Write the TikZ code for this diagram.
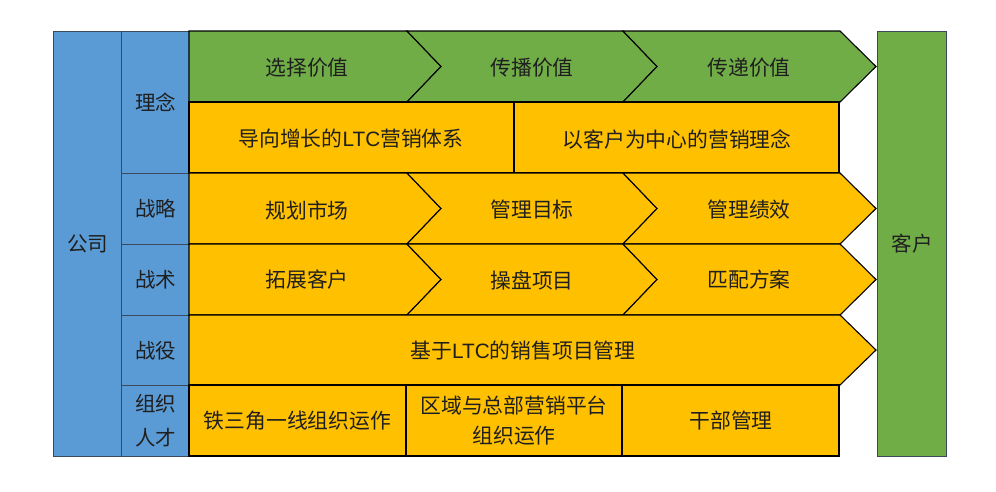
\documentclass[tikz,border=0pt]{standalone}
\usepackage{fontspec}
\newfontfamily\cjk{Noto Sans CJK SC}
\newfontfamily\lat{Liberation Sans}
\newcommand{\ltc}{{\lat LTC}}
\definecolor{cblue}{HTML}{5B9BD5}
\definecolor{cgreen}{HTML}{70AD47}
\definecolor{cyellow}{HTML}{FFC000}
\definecolor{cborder}{HTML}{3A4A5C}
\begin{document}
\begin{tikzpicture}[x=1pt,y=-1pt,
  lab/.style={font=\cjk\fontsize{20.8}{30}\selectfont, text=black!88, inner sep=0pt, align=center},
  sidebox/.style={draw=cborder, line width=1pt, anchor=north west, inner sep=0pt,
     font=\cjk\fontsize{20.5}{34}\selectfont, text=black!88, align=center},
  catbox/.style={sidebox, fill=cblue, minimum width=68pt},
  shp/.style={draw=black, line width=1.1pt, line join=miter},
  gshp/.style={shp, fill=cgreen},
  yshp/.style={shp, fill=cyellow}]
\useasboundingbox (0,0) rectangle (996,491);
\fill[white] (0,0) rectangle (996,491);
% side boxes
\node[sidebox, fill=cblue, minimum width=68pt, minimum height=425pt] (gongsi) at (53,31) {公司};
\node[sidebox, fill=cgreen, minimum width=69pt, minimum height=425pt] (kehu) at (877,31) {客户};
\node[catbox, minimum height=142pt] (linian) at (121,31) {理念};
\node[catbox, minimum height=71pt] (zhanlue) at (121,173) {战略};
\node[catbox, minimum height=71pt] (zhanshu) at (121,244) {战术};
\node[catbox, minimum height=70pt] (zhanyi) at (121,315) {战役};
\node[catbox, minimum height=71pt] (zuzhi) at (121,385) {组织\\人才};
% row 1 (green chevrons)
\draw[gshp] (189,31) -- (407,31) -- (441,66.5) -- (407,102) -- (189,102) -- cycle;
\draw[gshp] (407,31) -- (623,31) -- (657,66.5) -- (623,102) -- (407,102) -- (441,66.5) -- cycle;
\draw[gshp] (623,31) -- (840,31) -- (876,66.5) -- (840,102) -- (623,102) -- (657,66.5) -- cycle;
\node[lab] (a1) at (307,68) {选择价值};
\node[lab] (a2) at (532,68) {传播价值};
\node[lab] (a3) at (749,68) {传递价值};
% row 2
\draw[yshp] (189,102) rectangle (514,173);
\draw[yshp] (514,102) rectangle (839,173);
\node[lab] (b1) at (351,139) {导向增长的\ltc 营销体系};
\node[lab] (b2) at (677,139) {以客户为中心的营销理念};
% row 3
\draw[yshp] (189,173) -- (407,173) -- (441,208.5) -- (407,244) -- (189,244) -- cycle;
\draw[yshp] (407,173) -- (623,173) -- (657,208.5) -- (623,244) -- (407,244) -- (441,208.5) -- cycle;
\draw[yshp] (623,173) -- (840,173) -- (876,208.5) -- (840,244) -- (623,244) -- (657,208.5) -- cycle;
\node[lab] (c1) at (307,210) {规划市场};
\node[lab] (c2) at (532,210) {管理目标};
\node[lab] (c3) at (749,210) {管理绩效};
% row 4
\draw[yshp] (189,244) -- (407,244) -- (441,279.5) -- (407,315) -- (189,315) -- cycle;
\draw[yshp] (407,244) -- (623,244) -- (657,279.5) -- (623,315) -- (407,315) -- (441,279.5) -- cycle;
\draw[yshp] (623,244) -- (840,244) -- (876,279.5) -- (840,315) -- (623,315) -- (657,279.5) -- cycle;
\node[lab] (d1) at (307,280) {拓展客户};
\node[lab] (d2) at (532,280) {操盘项目};
\node[lab] (d3) at (749,280) {匹配方案};
% row 5
\draw[yshp] (189,315) -- (840,315) -- (876,350) -- (840,385) -- (189,385) -- cycle;
\node[lab] (e1) at (523,351) {基于\ltc 的销售项目管理};
% row 6
\draw[yshp] (189,385) rectangle (406,456);
\draw[yshp] (406,385) rectangle (622,456);
\draw[yshp] (622,385) rectangle (839,456);
\node[lab] (f1) at (297.5,421) {铁三角一线组织运作};
\node[lab] (f2) at (514,421) {区域与总部营销平台\\组织运作};
\node[lab] (f3) at (731,421) {干部管理};
\end{tikzpicture}
\end{document}
